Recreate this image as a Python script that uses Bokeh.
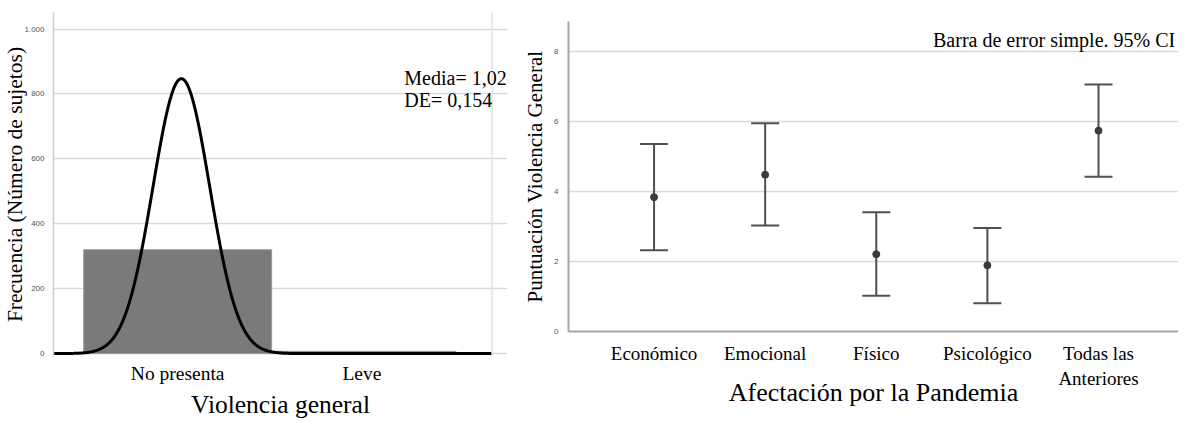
import numpy as np
from bokeh.plotting import figure
from bokeh.models import (ColumnDataSource, Whisker, TeeHead, Span,
                          FixedTicker, Label, Range1d)
from bokeh.layouts import row, column
from bokeh.embed import file_html
from bokeh.resources import INLINE

# ---------------- Data: left chart (histogram + normal curve) ----------------
hist_categories = ["No presenta", "Leve"]
hist_positions = [1, 2]
hist_counts = [320, 7]
mean_val = 1.02
sd_val = 0.154
hist_yticks = [0, 200, 400, 600, 800, 1000]
hist_ytick_labels = ["0", "200", "400", "600", "800", "1.000"]

# ---------------- Data: right chart (error bars, 95% CI) ----------------
cat_labels = ["Económico", "Emocional", "Físico", "Psicológico", "Todas las\nAnteriores"]
cat_positions = [1, 2, 3, 4, 5]
means = [3.84, 4.48, 2.21, 1.89, 5.74]
upper = [5.36, 5.95, 3.41, 2.96, 7.06]
lower = [2.32, 3.03, 1.02, 0.81, 4.42]
err_yticks = [0, 2, 4, 6, 8]

SERIF = "Liberation Serif"
SANS = "Liberation Sans"
GRID = "#d9d9d9"
H = 421

# ---------------- Left figure ----------------
X_LEFT, X_PLOT_END, X_FRAME_END = 0.326, 2.706, 2.79
p1 = figure(width=520, height=H, x_range=Range1d(X_LEFT, X_FRAME_END),
            y_range=Range1d(-9, 1051),
            output_backend="svg", toolbar_location=None,
            min_border_left=40, min_border_right=13, min_border_top=12,
            min_border_bottom=40)
p1.outline_line_color = None
p1.background_fill_color = "white"
p1.border_fill_color = "white"

p1.vbar(x=hist_positions, top=hist_counts, bottom=0, width=1.02,
        fill_color="#7a7a7a", line_color="#9a9a9a", line_width=1)

n_total = sum(hist_counts)
xs = np.linspace(X_LEFT, X_PLOT_END, 600)
ys = n_total * np.exp(-0.5 * ((xs - mean_val) / sd_val) ** 2) / (sd_val * np.sqrt(2 * np.pi))
p1.line(xs, ys, line_color="black", line_width=3)

p1.xgrid.visible = False
p1.ygrid.grid_line_color = GRID
p1.ygrid.grid_line_width = 1.5
p1.ygrid.ticker = FixedTicker(ticks=hist_yticks)
p1.ygrid.bounds = (X_LEFT, X_PLOT_END)
p1.add_layout(Span(location=X_PLOT_END, dimension="height",
                   line_color="#e3e3e3", line_width=1.5))

ya = p1.yaxis[0]
ya.ticker = FixedTicker(ticks=hist_yticks)
ya.major_label_overrides = {t: l for t, l in zip(hist_yticks, hist_ytick_labels)}
ya.major_label_text_font = SANS
ya.major_label_text_font_size = "8px"
ya.major_label_text_color = "#555555"
ya.major_label_standoff = 3
ya.major_tick_line_color = None
ya.minor_tick_line_color = None
ya.axis_line_color = "#cfcfcf"
ya.axis_line_width = 1.5
ya.axis_label = "Frecuencia (Número de sujetos)"
ya.axis_label_text_font = SERIF
ya.axis_label_text_font_size = "21.5px"
ya.axis_label_text_font_style = "normal"
ya.axis_label_text_color = "black"
ya.axis_label_standoff = -6

xa = p1.xaxis[0]
xa.ticker = FixedTicker(ticks=hist_positions)
xa.major_label_overrides = {t: l for t, l in zip(hist_positions, hist_categories)}
xa.major_label_text_font = SERIF
xa.major_label_text_font_size = "19.5px"
xa.major_label_text_color = "black"
xa.major_label_standoff = 0
xa.major_tick_line_color = None
xa.minor_tick_line_color = None
xa.axis_line_color = None
xa.axis_label = "Violencia general"
xa.axis_label_text_font = SERIF
xa.axis_label_text_font_size = "25.5px"
xa.axis_label_text_font_style = "normal"
xa.axis_label_text_color = "black"
xa.axis_label_standoff = 3

p1.add_layout(Label(x=2.23, y=814, text="Media= 1,02", text_font=SERIF,
                    text_font_size="20px", text_color="black"))
p1.add_layout(Label(x=2.23, y=747, text="DE= 0,154", text_font=SERIF,
                    text_font_size="20px", text_color="black"))

# ---------------- Right figure ----------------
p2 = figure(width=658, height=H, x_range=Range1d(0.23, 5.72),
            y_range=Range1d(0, 8.86), output_backend="svg",
            toolbar_location=None, min_border_left=40, min_border_right=0,
            min_border_top=21, min_border_bottom=90)
p2.outline_line_color = None
p2.background_fill_color = "white"
p2.border_fill_color = "white"

src = ColumnDataSource(dict(x=cat_positions, m=means, up=upper, lo=lower))
head_u = TeeHead(size=28, line_color="#505050", line_width=2)
head_l = TeeHead(size=28, line_color="#505050", line_width=2)
p2.add_layout(Whisker(base="x", upper="up", lower="lo", source=src,
                      dimension="height", line_color="#505050", line_width=2,
                      upper_head=head_u, lower_head=head_l))
p2.scatter("x", "m", source=src, size=7, fill_color="#3c3c3c",
           line_color="#3c3c3c")

p2.xgrid.visible = False
p2.ygrid.grid_line_color = GRID
p2.ygrid.grid_line_width = 1.5
p2.ygrid.ticker = FixedTicker(ticks=err_yticks)

ya2 = p2.yaxis[0]
ya2.ticker = FixedTicker(ticks=err_yticks)
ya2.major_label_text_font = SANS
ya2.major_label_text_font_size = "8px"
ya2.major_label_text_color = "#555555"
ya2.major_label_standoff = 4
ya2.major_tick_line_color = None
ya2.minor_tick_line_color = None
ya2.axis_line_color = "#a6a6a6"
ya2.axis_line_width = 2
ya2.axis_label = "Puntuación Violencia General"
ya2.axis_label_text_font = SERIF
ya2.axis_label_text_font_size = "21px"
ya2.axis_label_text_font_style = "normal"
ya2.axis_label_text_color = "black"
ya2.axis_label_standoff = 4

xa2 = p2.xaxis[0]
xa2.ticker = FixedTicker(ticks=cat_positions)
xa2.major_label_overrides = {t: l for t, l in zip(cat_positions, cat_labels)}
xa2.major_label_text_font = SERIF
xa2.major_label_text_font_size = "19px"
xa2.major_label_text_color = "black"
xa2.major_label_standoff = 5
xa2.major_tick_line_color = None
xa2.minor_tick_line_color = None
xa2.axis_line_color = "#a6a6a6"
xa2.axis_line_width = 2
xa2.axis_label = "Afectación por la Pandemia"
xa2.axis_label_text_font = SERIF
xa2.axis_label_text_font_size = "26px"
xa2.axis_label_text_font_style = "normal"
xa2.axis_label_text_color = "black"
xa2.axis_label_standoff = -14

p2.add_layout(Label(x=5.69, y=8.03, text="Barra de error simple. 95% CI",
                    text_align="right", text_font=SERIF, text_font_size="20px",
                    text_color="black"))

layout = row(column(p1), column(p2))
open("out.html", "w").write(file_html(layout, INLINE))
